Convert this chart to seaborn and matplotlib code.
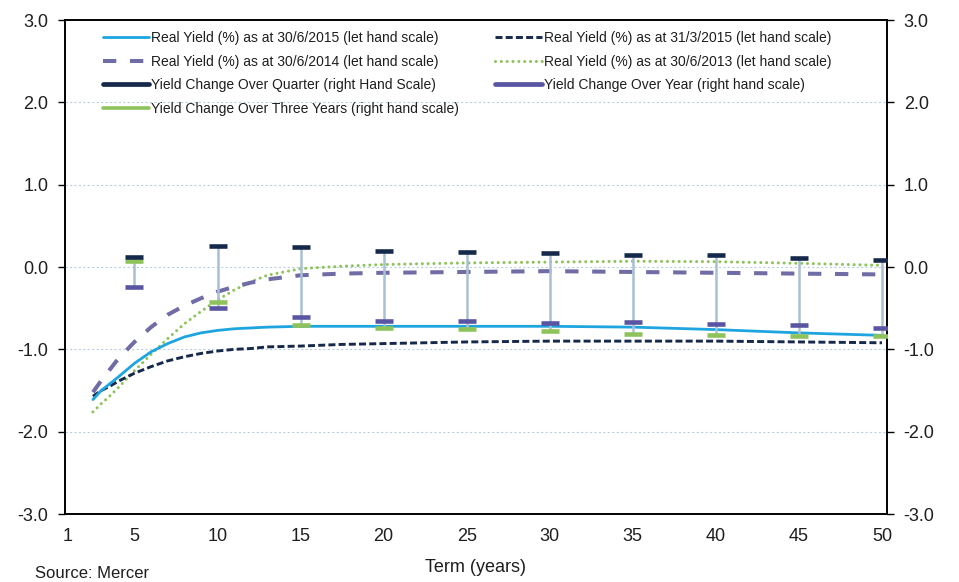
import numpy as np
import pandas as pd
import matplotlib
matplotlib.use("Agg")
import matplotlib.pyplot as plt
from matplotlib.lines import Line2D
import seaborn as sns

# Real yield curves (left hand scale), term in years
curve_terms = [2.5, 3, 3.5, 4, 5, 6, 7, 8, 9, 10, 11, 12, 13, 15, 17.5, 20, 25, 30, 35, 40, 45, 50]
yield_2015_06 = [-1.61, -1.50, -1.42, -1.34, -1.17, -1.03, -0.93, -0.85, -0.80, -0.77, -0.75, -0.74,
                 -0.73, -0.72, -0.72, -0.72, -0.72, -0.72, -0.73, -0.76, -0.80, -0.83]
yield_2015_03 = [-1.57, -1.50, -1.45, -1.39, -1.29, -1.21, -1.14, -1.09, -1.05, -1.02, -1.00, -0.99,
                 -0.97, -0.96, -0.94, -0.93, -0.91, -0.90, -0.90, -0.90, -0.91, -0.92]
yield_2014_06 = [-1.52, -1.38, -1.25, -1.12, -0.91, -0.73, -0.58, -0.47, -0.38, -0.30, -0.24, -0.19,
                 -0.15, -0.10, -0.08, -0.07, -0.06, -0.05, -0.06, -0.07, -0.08, -0.09]
yield_2013_06 = [-1.76, -1.66, -1.57, -1.47, -1.26, -1.06, -0.87, -0.69, -0.54, -0.40, -0.28, -0.18,
                 -0.10, -0.02, 0.01, 0.03, 0.05, 0.06, 0.07, 0.065, 0.045, 0.02]

# Yield changes (right hand scale) at 5-year terms
change_terms = [5, 10, 15, 20, 25, 30, 35, 40, 45, 50]
change_quarter = [0.12, 0.25, 0.24, 0.20, 0.18, 0.17, 0.15, 0.14, 0.11, 0.09]
change_year = [-0.24, -0.50, -0.61, -0.66, -0.65, -0.68, -0.67, -0.69, -0.71, -0.74]
change_three = [0.07, -0.43, -0.70, -0.74, -0.75, -0.78, -0.81, -0.83, -0.84, -0.84]

x_ticks = [1, 5, 10, 15, 20, 25, 30, 35, 40, 45, 50]
y_ticks = [-3.0, -2.0, -1.0, 0.0, 1.0, 2.0, 3.0]

labels = {
    "y15": "Real Yield (%) as at 30/6/2015 (let hand scale)",
    "y15q": "Real Yield (%) as at 31/3/2015 (let hand scale)",
    "y14": "Real Yield (%) as at 30/6/2014 (let hand scale)",
    "y13": "Real Yield (%) as at 30/6/2013 (let hand scale)",
    "cq": "Yield Change Over Quarter (right Hand Scale)",
    "cy": "Yield Change Over Year (right hand scale)",
    "c3": "Yield Change Over Three Years (right hand scale)",
}

sns.set_theme(style="white")
plt.rcParams["font.family"] = ["Liberation Sans", "DejaVu Sans"]

C_BLUE = "#1ea5df"
C_NAVY = "#17294a"
C_PURPLE = "#6f6ca6"
C_GREEN = "#8dc35a"
C_MARK_PURPLE = "#5a55a2"
C_HILO = "#a9bfd2"
TXT = "#1e1e1e"

fig = plt.figure(figsize=(9.59, 5.82), dpi=100)
ax = fig.add_axes([0.0678, 0.1168, 0.8571, 0.8488])

curves = pd.DataFrame({
    "Term": curve_terms,
    "y15": yield_2015_06,
    "y15q": yield_2015_03,
    "y14": yield_2014_06,
    "y13": yield_2013_06,
})

styles = {
    "y13": dict(color=C_GREEN, linewidth=2.2, linestyle=(0, (0.01, 1.9)), dash_capstyle="round"),
    "y14": dict(color=C_PURPLE, linewidth=2.9, linestyle=(0, (3.3, 3.4))),
    "y15q": dict(color=C_NAVY, linewidth=2.1, linestyle=(0, (2.4, 1.1))),
    "y15": dict(color=C_BLUE, linewidth=2.0, linestyle="-"),
}
for key in ["y13", "y14", "y15q", "y15"]:
    sns.lineplot(data=curves, x="Term", y=key, ax=ax, estimator=None, legend=False, **styles[key])

ax.set_xlim(0.82, 50.3)
ax.set_ylim(-3, 3)
ax.set_xticks(x_ticks)
ax.set_xticklabels([str(t) for t in x_ticks])
ax.set_yticks(y_ticks)
ax.set_yticklabels([f"{v:.1f}" for v in y_ticks])
ax.yaxis.grid(True, color="#b9d0e4", linestyle=(0, (2, 2)), linewidth=0.8)
ax.xaxis.grid(False)
ax.set_ylabel("")
ax.set_xlabel("Term (years)", fontsize=13, color=TXT, labelpad=10)
ax.tick_params(axis="x", length=0, pad=10, labelsize=13, labelcolor=TXT)
ax.tick_params(axis="y", direction="out", length=5, width=1, color="black",
               pad=7, labelsize=13, labelcolor=TXT, left=True)
for s in ax.spines.values():
    s.set_color("black")
    s.set_linewidth(1.2)

# Right hand scale: yield changes with high-low connectors
ax2 = ax.twinx()
ax2.set_ylim(-3, 3)
ax2.set_yticks(y_ticks)
ax2.set_yticklabels([f"{v:.1f}" for v in y_ticks])
ax2.tick_params(axis="y", direction="out", length=5, width=1, color="black",
                pad=7, labelsize=13, labelcolor=TXT, right=True)
ax2.grid(False)
for s in ax2.spines.values():
    s.set_color("black")
    s.set_linewidth(1.2)

changes = pd.DataFrame({
    "Term": change_terms,
    "cq": change_quarter,
    "cy": change_year,
    "c3": change_three,
})
highs = changes[["cq", "cy", "c3"]].max(axis=1)
lows = changes[["cq", "cy", "c3"]].min(axis=1)
ax2.vlines(changes["Term"], lows, highs, color=C_HILO, linewidth=1.8, zorder=2)

marker_colors = {"cq": C_NAVY, "cy": C_MARK_PURPLE, "c3": C_GREEN}
for key in ["c3", "cy", "cq"]:
    ax2.plot(changes["Term"], changes[key], linestyle="none", marker="_",
             markersize=12.5, markeredgewidth=3.3, color=marker_colors[key], zorder=3)

# Legend
handles = [
    Line2D([], [], **styles["y15"]),
    Line2D([], [], **styles["y14"]),
    Line2D([], [], color=C_NAVY, linewidth=3.4, solid_capstyle="round"),
    Line2D([], [], color=C_GREEN, linewidth=2.6),
    Line2D([], [], **styles["y15q"]),
    Line2D([], [], **styles["y13"]),
    Line2D([], [], color=C_MARK_PURPLE, linewidth=3.4, solid_capstyle="round"),
]
leg_labels = [labels[k] for k in ["y15", "y14", "cq", "c3", "y15q", "y13", "cy"]]
leg = ax2.legend(handles, leg_labels, ncol=2, loc="upper left", bbox_to_anchor=(0.046, 0.978),
                 frameon=False, fontsize=10, handlelength=3.35, handletextpad=0.15,
                 labelspacing=0.7, columnspacing=2.6, borderpad=0, borderaxespad=0)
for t in leg.get_texts():
    t.set_color(TXT)

fig.text(35 / 959, 1 - 581 / 582, "Source: Mercer", fontsize=12, color=TXT, ha="left", va="bottom")

fig.savefig("out.png", dpi=100)
